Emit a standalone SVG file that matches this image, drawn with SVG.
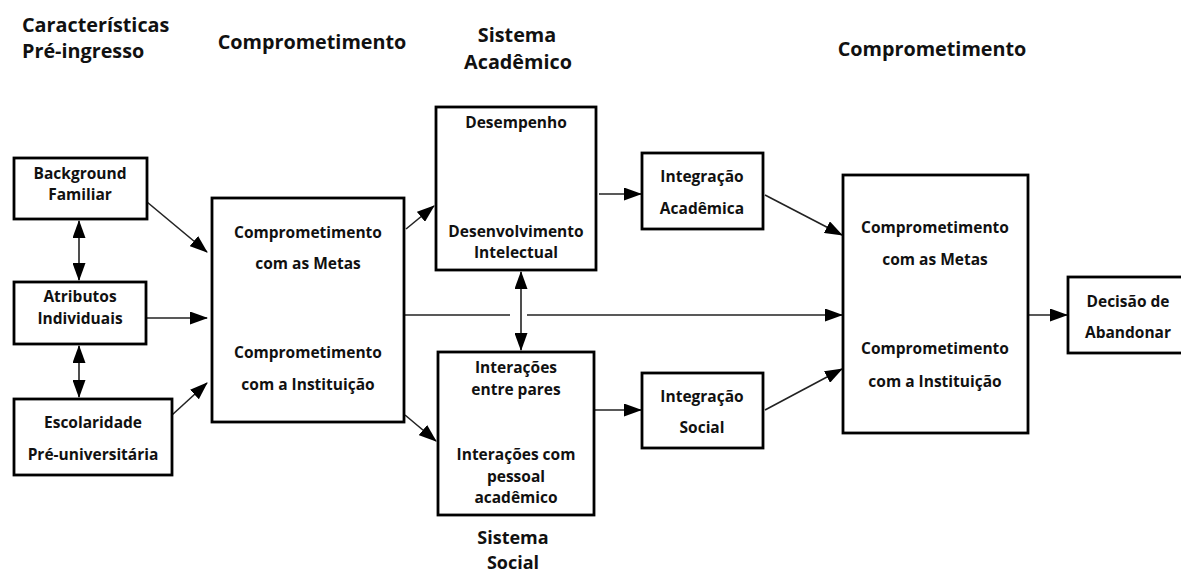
<svg xmlns="http://www.w3.org/2000/svg" width="1181" height="574" viewBox="0 0 1181 574">
<style>
.box{fill:#fff;stroke:#000;stroke-width:2.8}
.t{font-family:"Open Sans","Noto Sans",sans-serif;font-weight:bold;font-size:15.5px;fill:#111;text-anchor:middle}
.h{font-family:"Open Sans","Noto Sans",sans-serif;font-weight:bold;font-size:19.8px;fill:#111}
.hs{font-family:"Open Sans","Noto Sans",sans-serif;font-weight:bold;font-size:18px;fill:#111;text-anchor:middle}
.c{fill:none;stroke:#222;stroke-width:1.6}
</style>
<defs>
<marker id="ah" markerUnits="userSpaceOnUse" markerWidth="18" markerHeight="13" refX="17" refY="6.5" orient="auto-start-reverse" viewBox="0 0 18 13">
<path d="M0,0 L18,6.5 L0,13 Z" fill="#000"/>
</marker>
</defs>
<rect width="1181" height="574" fill="#fff"/>
<g id="titles">
<text class="h" x="22" y="32">Características</text>
<text class="h" x="22" y="58">Pré-ingresso</text>
<text class="h" x="312" y="49" text-anchor="middle">Comprometimento</text>
<text class="h" x="517" y="42" text-anchor="middle">Sistema</text>
<text class="h" x="518" y="69" text-anchor="middle">Acadêmico</text>
<text class="h" x="932" y="56" text-anchor="middle">Comprometimento</text>
<text class="hs" x="513" y="544">Sistema</text>
<text class="hs" x="513" y="569">Social</text>
</g>
<g id="connectors">
<line class="c" x1="147" y1="202" x2="207" y2="252" marker-end="url(#ah)"/>
<line class="c" x1="147" y1="318" x2="207" y2="318" marker-end="url(#ah)"/>
<line class="c" x1="172" y1="415" x2="207" y2="383" marker-end="url(#ah)"/>
<line class="c" x1="79" y1="221" x2="79" y2="280" marker-start="url(#ah)" marker-end="url(#ah)"/>
<line class="c" x1="79" y1="346" x2="79" y2="397" marker-start="url(#ah)" marker-end="url(#ah)"/>
<line class="c" x1="406" y1="229" x2="434" y2="206" marker-end="url(#ah)"/>
<line class="c" x1="405" y1="415" x2="436" y2="441" marker-end="url(#ah)"/>
<line class="c" x1="599" y1="194" x2="641" y2="194" marker-end="url(#ah)"/>
<line class="c" x1="595" y1="410" x2="641" y2="410" marker-end="url(#ah)"/>
<line class="c" x1="765" y1="195" x2="842" y2="235" marker-end="url(#ah)"/>
<line class="c" x1="765" y1="410" x2="842" y2="369" marker-end="url(#ah)"/>
<line class="c" x1="405" y1="315" x2="510" y2="315"/>
<line class="c" x1="527" y1="315" x2="842" y2="315" marker-end="url(#ah)"/>
<line class="c" x1="521" y1="272" x2="521" y2="350" marker-start="url(#ah)" marker-end="url(#ah)"/>
<line class="c" x1="1029" y1="315" x2="1067" y2="315" marker-end="url(#ah)"/>
</g>
<g id="bg">
<rect class="box" x="14" y="158" width="133" height="61"/>
<text class="t" x="80" y="179">Background</text>
<text class="t" x="80" y="200">Familiar</text>
</g>
<g id="atr">
<rect class="box" x="14" y="282" width="132" height="62"/>
<text class="t" x="80" y="302">Atributos</text>
<text class="t" x="80" y="324">Individuais</text>
</g>
<g id="esc">
<rect class="box" x="14" y="399" width="158" height="76"/>
<text class="t" x="93" y="428">Escolaridade</text>
<text class="t" x="93" y="460">Pré-universitária</text>
</g>
<g id="comp1">
<rect class="box" x="212" y="198" width="192" height="224"/>
<text class="t" x="308" y="238">Comprometimento</text>
<text class="t" x="308" y="269">com as Metas</text>
<text class="t" x="308" y="358">Comprometimento</text>
<text class="t" x="308" y="390">com a Instituição</text>
</g>
<g id="acad">
<rect class="box" x="436" y="107" width="160" height="163"/>
<text class="t" x="516" y="128">Desempenho</text>
<text class="t" x="516" y="237">Desenvolvimento</text>
<text class="t" x="516" y="258">Intelectual</text>
</g>
<g id="social">
<rect class="box" x="438" y="352" width="156" height="163"/>
<text class="t" x="516" y="373">Interações</text>
<text class="t" x="516" y="395">entre pares</text>
<text class="t" x="516" y="460">Interações com</text>
<text class="t" x="516" y="482">pessoal</text>
<text class="t" x="516" y="503">acadêmico</text>
</g>
<g id="intacad">
<rect class="box" x="642" y="153" width="121" height="76"/>
<text class="t" x="702" y="182">Integração</text>
<text class="t" x="702" y="214">Acadêmica</text>
</g>
<g id="intsoc">
<rect class="box" x="642" y="373" width="121" height="75"/>
<text class="t" x="702" y="402">Integração</text>
<text class="t" x="702" y="433">Social</text>
</g>
<g id="comp2">
<rect class="box" x="843" y="175" width="185" height="258"/>
<text class="t" x="935" y="233">Comprometimento</text>
<text class="t" x="935" y="265">com as Metas</text>
<text class="t" x="935" y="354">Comprometimento</text>
<text class="t" x="935" y="387">com a Instituição</text>
</g>
<g id="decisao">
<rect class="box" x="1068" y="277" width="120" height="76"/>
<text class="t" x="1128" y="307">Decisão de</text>
<text class="t" x="1128" y="338">Abandonar</text>
</g>
</svg>
